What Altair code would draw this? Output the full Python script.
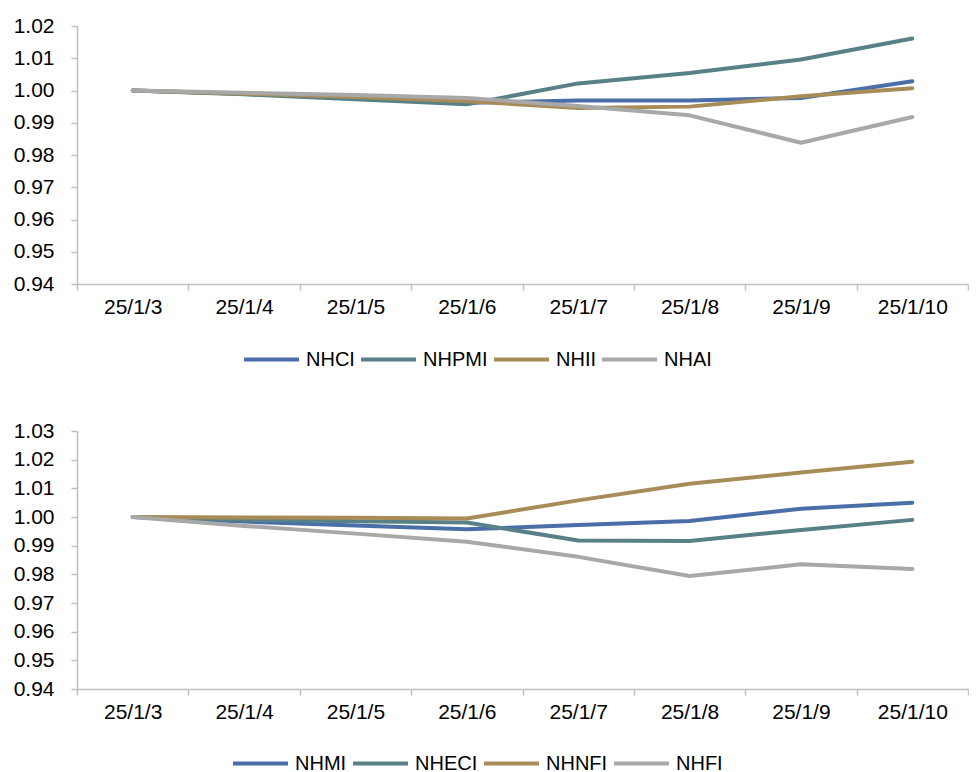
import altair as alt
import pandas as pd

dates = ["25/1/3", "25/1/4", "25/1/5", "25/1/6", "25/1/7", "25/1/8", "25/1/9", "25/1/10"]

# Top panel series
top_names = ["NHCI", "NHPMI", "NHII", "NHAI"]
nhci = [1.000, 0.9990, 0.9978, 0.9962, 0.9969, 0.9969, 0.9977, 1.0029]
nhpmi = [1.000, 0.9988, 0.9973, 0.9957, 1.0022, 1.0054, 1.0096, 1.0161]
nhii = [1.000, 0.9990, 0.9980, 0.9967, 0.9946, 0.9950, 0.9982, 1.0007]
nhai = [1.000, 0.9993, 0.9986, 0.9977, 0.9952, 0.9923, 0.9838, 0.9918]

# Bottom panel series
bot_names = ["NHMI", "NHECI", "NHNFI", "NHFI"]
nhmi = [1.000, 0.9984, 0.9970, 0.9957, 0.9972, 0.9986, 1.0029, 1.0050]
nheci = [1.000, 0.9990, 0.9985, 0.9981, 0.9918, 0.9916, 0.9955, 0.9990]
nhnfi = [1.000, 0.9998, 0.9997, 0.9995, 1.0058, 1.0116, 1.0155, 1.0193]
nhfi = [1.000, 0.9969, 0.9942, 0.9914, 0.9861, 0.9794, 0.9835, 0.9819]

top_ticks = [0.94, 0.95, 0.96, 0.97, 0.98, 0.99, 1.00, 1.01, 1.02]
bot_ticks = [0.94, 0.95, 0.96, 0.97, 0.98, 0.99, 1.00, 1.01, 1.02, 1.03]

colors = ["#4A6FA8", "#578087", "#A88C58", "#A8A8A8"]

FONT = "Liberation Sans"
AXIS_COLOR = "#BFBFBF"


def long_df(names, series):
    rows = []
    for name, vals in zip(names, series):
        for d, v in zip(dates, vals):
            rows.append({"date": d, "series": name, "value": v})
    return pd.DataFrame(rows)


def panel(df, names, ticks, lx, ly):
    return alt.Chart(df).mark_line(strokeWidth=4, strokeCap="round", strokeJoin="round").encode(
        x=alt.X(
            "date:N",
            sort=dates,
            scale=alt.Scale(type="band", paddingInner=0, paddingOuter=0),
            axis=alt.Axis(
                title=None, labelAngle=0, tickBand="extent", grid=False,
                domainColor=AXIS_COLOR, tickColor=AXIS_COLOR, tickSize=6,
                labelFontSize=21, labelColor="#000000", labelFont=FONT,
                labelPadding=6, domainWidth=1.5, tickWidth=1.5,
            ),
        ),
        y=alt.Y(
            "value:Q",
            scale=alt.Scale(domain=[ticks[0], ticks[-1]], nice=False, zero=False),
            axis=alt.Axis(
                title=None, values=ticks, format=".2f", grid=False,
                domainColor=AXIS_COLOR, tickColor=AXIS_COLOR, tickSize=6,
                labelFontSize=21, labelColor="#000000", labelFont=FONT,
                labelPadding=17, domainWidth=1.5, tickWidth=1.5,
            ),
        ),
        color=alt.Color(
            "series:N",
            scale=alt.Scale(domain=names, range=colors),
            legend=alt.Legend(
                title=None, orient="none", legendX=lx, legendY=ly,
                direction="horizontal", symbolType="stroke", symbolSize=3025,
                symbolStrokeWidth=4, labelFontSize=20, labelFont=FONT,
                labelColor="#000000", labelOffset=5, columnPadding=-2, padding=0,
                gridAlign="none",
            ),
        ),
    ).properties(width=891, height=258)


top = panel(long_df(top_names, [nhci, nhpmi, nhii, nhai]), top_names, top_ticks, 165, 304)
bottom = panel(long_df(bot_names, [nhmi, nheci, nhnfi, nhfi]), bot_names, bot_ticks, 154, 303)

chart = alt.vconcat(top, bottom, spacing=50).resolve_scale(color="independent").properties(
    padding={"left": 5, "top": 7, "right": 0, "bottom": 0}
).configure_view(stroke=None)

chart.save("out.html", embed_options={"renderer": "svg", "actions": False})
